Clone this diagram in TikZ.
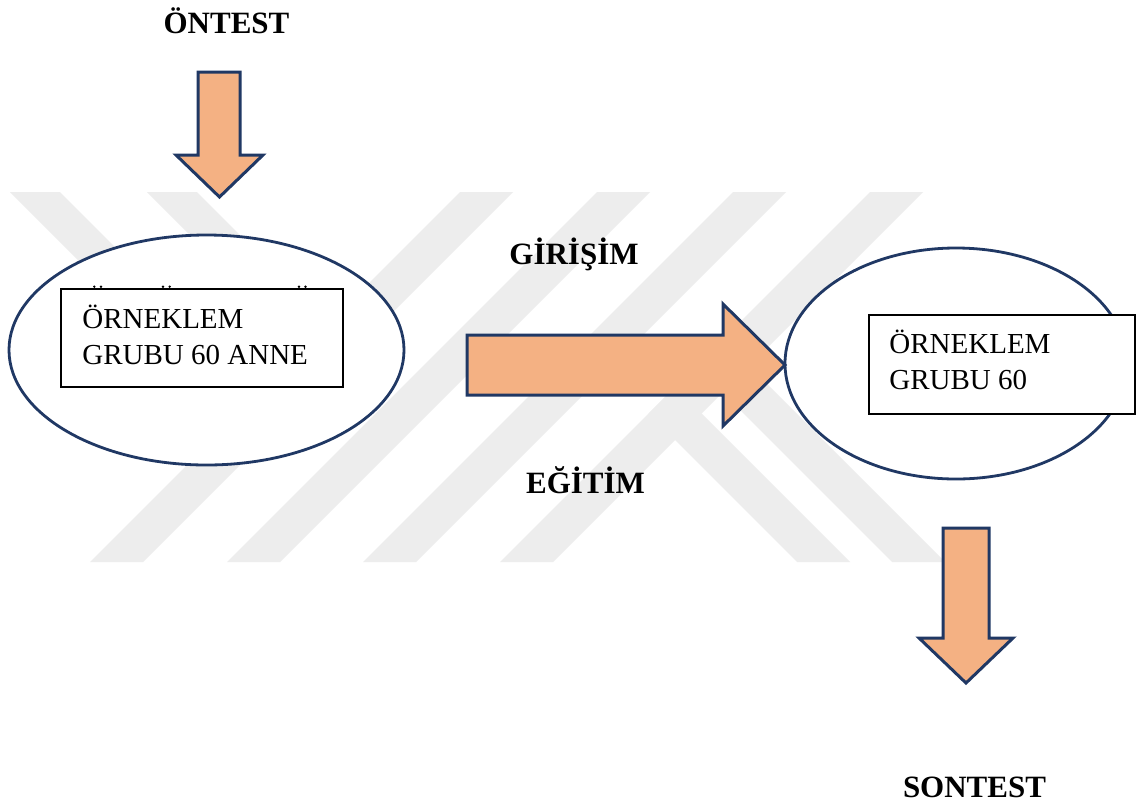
\documentclass[tikz,border=0pt]{standalone}
\usepackage{fontspec}
\setmainfont{Liberation Serif}
\usetikzlibrary{shapes.geometric}
\definecolor{wm}{RGB}{237,237,237}
\definecolor{orangefill}{RGB}{244,177,131}
\definecolor{navy}{RGB}{32,56,100}
\begin{document}
\begin{tikzpicture}[x=0.5pt,y=-0.5pt,
  band/.style={fill=wm, draw=none},
  oval/.style={ellipse, draw=navy, line width=1.4pt, fill=white, inner sep=0pt},
  box/.style={rectangle, draw=black, line width=0.8pt, fill=white, inner sep=0pt},
  boxtext/.style={font=\fontsize{14.5}{17}\selectfont, inner sep=0pt, anchor=base west},
  label/.style={font=\bfseries\fontsize{15.5}{18}\selectfont, inner sep=0pt, anchor=base},
  blockarrow/.style={fill=orangefill, draw=navy, line width=1.5pt, line join=miter},
  umlaut/.style={fill=black, draw=none}]
\useasboundingbox (0,0) rectangle (1138,809);
\fill[white] (0,0) rectangle (1138,809);
% watermark
\foreach \xb in {90,227,363,500}{
  \fill[band] ({\xb},562) -- ({\xb+53},562) -- ({\xb+423},192) -- ({\xb+370},192) -- cycle;
}
\fill[band] (10,192) -- (60,192) -- (210,342) -- (160,342) -- cycle;
\fill[band] (147,192) -- (197,192) -- (347,342) -- (297,342) -- cycle;
\fill[band] (648.5,413.5) -- (675,387) -- (850,562) -- (797,562) -- cycle;
\fill[band] (696,366) -- (722.5,339.5) -- (945,562) -- (892,562) -- cycle;
% ellipses
\node[oval, minimum width=197.5pt, minimum height=115pt] (e1) at (206.5,350) {};
\node[oval, minimum width=171pt, minimum height=115.5pt] (e2) at (956,363.5) {};
% boxes
\node[box, minimum width=141pt, minimum height=49pt] (b1) at (202,338) {};
\node[box, minimum width=133pt, minimum height=49.5pt] (b2) at (1002,364.5) {};
\fill[umlaut] (94.3,286.7) circle[radius=0.65pt] (101,286.7) circle[radius=0.65pt]
  (163,286.7) circle[radius=0.65pt] (169.7,286.7) circle[radius=0.65pt]
  (299,286.7) circle[radius=0.65pt] (305.5,286.7) circle[radius=0.65pt];
\node[boxtext] (t1a) at (82,328) {ÖRNEKLEM};
\node[boxtext] (t1b) at (82,364) {GRUBU 60 ANNE};
\node[boxtext] (t2a) at (889,353) {ÖRNEKLEM};
\node[boxtext] (t2b) at (889,389) {GRUBU 60};
% labels
\node[label] (pre) at (226.5,33) {ÖNTEST};
\node[label] (giris) at (574,264) {GİRİŞİM};
\node[label] (egit) at (585.5,493) {EĞİTİM};
\node[label] (post) at (974.5,797) {SONTEST};
% block arrows
\draw[blockarrow] (198,72) -- (240,72) -- (240,155) -- (263,155) -- (219.5,197) -- (176,155) -- (198,155) -- cycle;
\draw[blockarrow] (467,335) -- (723,335) -- (723,304) -- (785,365) -- (723,426) -- (723,395) -- (467,395) -- cycle;
\draw[blockarrow] (943,528) -- (989,528) -- (989,638) -- (1013,638) -- (966,683) -- (919,638) -- (943,638) -- cycle;
\end{tikzpicture}
\end{document}
